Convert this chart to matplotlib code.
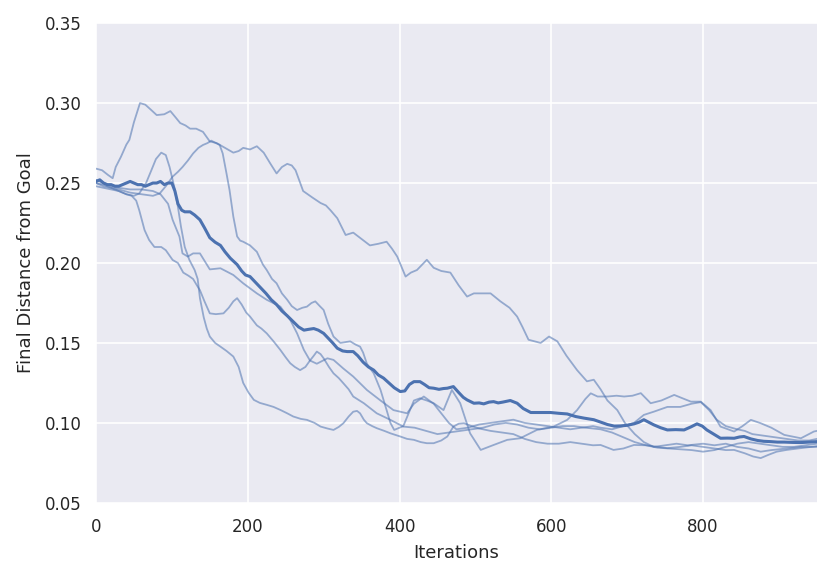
import matplotlib
matplotlib.use("Agg")
import matplotlib.pyplot as plt

# individual runs (faint lines)
run_a_x = [0, 8, 16, 22, 26, 33, 40, 44, 50, 58, 65, 72, 80, 90, 98, 105, 111, 118, 124, 132, 141, 150,
           159, 170, 181, 188, 194, 203, 212, 221, 230, 238, 245, 252, 258, 263, 273, 285, 296, 303, 309,
           318, 329, 339, 350, 361, 372, 383, 390, 397, 408, 415, 423, 436, 445, 455, 467, 478, 489, 498,
           507, 520, 533, 545, 555, 562, 570, 586, 597, 608, 620, 634, 647, 656, 665, 674, 687, 697, 710,
           722, 735, 750, 765, 780, 800, 815, 830, 845, 860, 876, 890, 910, 930, 950]
run_a_y = [0.259, 0.258, 0.255, 0.253, 0.260, 0.2665, 0.274, 0.277, 0.288, 0.300, 0.299, 0.296, 0.2925,
           0.293, 0.295, 0.291, 0.2875, 0.286, 0.284, 0.284, 0.282, 0.276, 0.275, 0.272, 0.269, 0.270,
           0.272, 0.271, 0.273, 0.269, 0.262, 0.256, 0.260, 0.262, 0.261, 0.258, 0.245, 0.241, 0.2375,
           0.236, 0.233, 0.228, 0.2175, 0.219, 0.215, 0.211, 0.212, 0.2133, 0.209, 0.204, 0.1915, 0.194,
           0.1956, 0.202, 0.197, 0.195, 0.194, 0.186, 0.179, 0.181, 0.181, 0.181, 0.176, 0.172, 0.1665,
           0.160, 0.152, 0.150, 0.154, 0.151, 0.142, 0.133, 0.126, 0.127, 0.121, 0.114, 0.108, 0.100,
           0.093, 0.088, 0.085, 0.086, 0.087, 0.086, 0.087, 0.086, 0.087, 0.085, 0.084, 0.082, 0.083,
           0.084, 0.085, 0.085]

run_b_x = [0, 10, 20, 30, 45, 60, 75, 84, 92, 101, 108, 114, 121, 128, 135, 141, 147, 152, 158, 163, 167,
           172, 176, 181, 186, 190, 194, 203, 212, 220, 225, 232, 238, 245, 252, 258, 265, 272, 278, 284,
           289, 295, 300, 306, 313, 322, 335, 342, 348, 352, 357, 366, 375, 383, 388, 393, 400, 405, 412,
           419, 427, 436, 445, 458, 469, 480, 493, 507, 524, 542, 559, 581, 603, 621, 634, 645, 652, 661,
           674, 686, 696, 707, 718, 731, 745, 762, 775, 784, 797, 810, 823, 841, 852, 863, 876, 890, 907,
           929, 946, 950]
run_b_y = [0.250, 0.249, 0.247, 0.246, 0.244, 0.243, 0.242, 0.2435, 0.248, 0.254, 0.257, 0.260, 0.264,
           0.2685, 0.272, 0.2738, 0.275, 0.2765, 0.275, 0.2738, 0.2685, 0.256, 0.2456, 0.229, 0.2166,
           0.214, 0.2133, 0.211, 0.207, 0.199, 0.1956, 0.190, 0.1873, 0.181, 0.177, 0.173, 0.1706, 0.172,
           0.1727, 0.175, 0.176, 0.173, 0.1706, 0.162, 0.154, 0.150, 0.151, 0.149, 0.1477, 0.144, 0.137,
           0.131, 0.1206, 0.108, 0.100, 0.0956, 0.097, 0.098, 0.106, 0.114, 0.1154, 0.114, 0.1123, 0.108,
           0.1206, 0.1123, 0.0935, 0.0831, 0.0862, 0.0894, 0.0904, 0.0956, 0.0977, 0.1019, 0.108, 0.115,
           0.1185, 0.1165, 0.1165, 0.117, 0.1165, 0.117, 0.1186, 0.1123, 0.114, 0.1175, 0.115, 0.1133,
           0.1133, 0.108, 0.0977, 0.0946, 0.098, 0.1019, 0.0998, 0.097, 0.0925, 0.0904, 0.0946, 0.095]

run_c_x = [0, 10, 20, 30, 40, 50, 57, 66, 73, 79, 86, 92, 97, 103, 108, 112, 117, 123, 130, 134, 137, 142,
           146, 150, 157, 164, 172, 181, 188, 194, 201, 208, 216, 225, 234, 243, 252, 260, 270, 278, 288,
           296, 305, 313, 320, 326, 333, 339, 344, 348, 353, 357, 364, 370, 380, 388, 401, 410, 419, 428,
           436, 445, 455, 463, 471, 478, 485, 495, 505, 520, 535, 550, 565, 580, 595, 610, 625, 640, 655,
           665, 682, 695, 709, 725, 740, 753, 770, 785, 797, 815, 830, 841, 855, 866, 876, 886, 897, 910,
           925, 946, 950]
run_c_y = [0.250, 0.248, 0.247, 0.245, 0.243, 0.242, 0.2435, 0.250, 0.258, 0.265, 0.269, 0.2675, 0.260,
           0.248, 0.235, 0.2227, 0.210, 0.202, 0.1956, 0.190, 0.178, 0.166, 0.159, 0.154, 0.150, 0.1477,
           0.145, 0.1415, 0.135, 0.125, 0.119, 0.1144, 0.1125, 0.1113, 0.110, 0.1081, 0.106, 0.104,
           0.1025, 0.1019, 0.100, 0.0977, 0.0965, 0.0956, 0.0975, 0.0998, 0.104, 0.107, 0.1075, 0.106,
           0.102, 0.0998, 0.098, 0.0967, 0.095, 0.0935, 0.0915, 0.090, 0.0894, 0.088, 0.0873, 0.0873,
           0.089, 0.0915, 0.0977, 0.0995, 0.0998, 0.098, 0.0965, 0.095, 0.094, 0.093, 0.090, 0.088, 0.087,
           0.087, 0.088, 0.087, 0.086, 0.0862, 0.0831, 0.084, 0.0862, 0.086, 0.085, 0.0842, 0.085, 0.086,
           0.0852, 0.084, 0.083, 0.0831, 0.081, 0.079, 0.078, 0.080, 0.082, 0.0831, 0.084, 0.0852, 0.0855]

run_d_x = [0, 10, 20, 30, 40, 47, 53, 57, 64, 70, 77, 86, 92, 101, 108, 115, 122, 128, 133, 137, 143, 150,
           158, 168, 175, 181, 186, 192, 198, 203, 212, 218, 225, 234, 243, 250, 256, 262, 269, 276, 282,
           287, 291, 296, 300, 307, 313, 320, 326, 333, 339, 353, 370, 388, 405, 420, 435, 450, 465, 480,
           495, 510, 525, 540, 555, 570, 585, 600, 615, 630, 645, 665, 680, 695, 710, 725, 740, 755, 770,
           785, 800, 815, 830, 845, 860, 875, 890, 905, 920, 935, 950]
run_d_y = [0.248, 0.247, 0.246, 0.245, 0.243, 0.242, 0.239, 0.233, 0.2206, 0.2144, 0.210, 0.210, 0.208,
           0.2019, 0.200, 0.194, 0.192, 0.190, 0.186, 0.183, 0.176, 0.1685, 0.168, 0.1685, 0.172, 0.176,
           0.178, 0.174, 0.169, 0.1665, 0.161, 0.159, 0.156, 0.151, 0.1456, 0.141, 0.1373, 0.135, 0.133,
           0.135, 0.139, 0.142, 0.1446, 0.143, 0.1404, 0.135, 0.131, 0.128, 0.1248, 0.121, 0.1165, 0.1123,
           0.106, 0.1019, 0.0977, 0.097, 0.095, 0.093, 0.094, 0.095, 0.096, 0.097, 0.099, 0.100, 0.099,
           0.097, 0.096, 0.097, 0.098, 0.098, 0.097, 0.096, 0.094, 0.091, 0.088, 0.086, 0.0845, 0.084,
           0.0835, 0.083, 0.082, 0.083, 0.085, 0.087, 0.088, 0.087, 0.086, 0.085, 0.085, 0.086, 0.087]

run_f_x = [0, 10, 20, 30, 45, 60, 75, 85, 95, 101, 110, 114, 121, 128, 137, 150, 164, 181, 194, 212, 225,
           243, 256, 265, 274, 282, 291, 305, 313, 326, 339, 357, 375, 392, 410, 419, 432, 445, 455, 465,
           475, 490, 505, 520, 535, 550, 565, 580, 595, 610, 625, 640, 655, 665, 680, 695, 709, 722, 735,
           753, 770, 785, 797, 808, 818, 830, 845, 855, 865, 880, 895, 910, 925, 940, 950]
run_f_y = [0.252, 0.250, 0.248, 0.247, 0.246, 0.246, 0.245, 0.243, 0.237, 0.227, 0.2165, 0.206, 0.204,
           0.206, 0.206, 0.196, 0.1967, 0.1925, 0.1873, 0.181, 0.177, 0.1727, 0.1644, 0.156, 0.1456,
           0.139, 0.137, 0.1404, 0.1394, 0.134, 0.129, 0.1206, 0.114, 0.108, 0.106, 0.112, 0.1165, 0.112,
           0.106, 0.100, 0.096, 0.097, 0.099, 0.100, 0.101, 0.102, 0.100, 0.099, 0.098, 0.097, 0.096,
           0.097, 0.098, 0.097, 0.096, 0.098, 0.100, 0.105, 0.107, 0.110, 0.110, 0.112, 0.113, 0.108,
           0.102, 0.098, 0.096, 0.095, 0.093, 0.092, 0.091, 0.090, 0.089, 0.089, 0.090]

# thick (average) line
avg_x = [0, 5, 10, 15, 20, 25, 30, 35, 40, 45, 50, 55, 60, 65, 70, 75, 80, 85, 90, 95, 100, 104, 108, 113,
         117, 124, 130, 137, 143, 150, 157, 164, 170, 177, 186, 192, 197, 203, 210, 216, 224, 231, 238, 245,
         252, 260, 267, 274, 280, 287, 293, 300, 306, 312, 318, 325, 331, 339, 345, 352, 359, 366, 372, 379,
         386, 393, 401, 407, 413, 419, 427, 433, 439, 445, 452, 458, 463, 471, 478, 484, 489, 498, 505, 511,
         518, 524, 530, 536, 546, 555, 563, 573, 585, 599, 610, 621, 632, 643, 656, 665, 674, 683, 691, 700,
         709, 716, 722, 728, 735, 744, 753, 764, 775, 784, 792, 799, 805, 814, 823, 832, 841, 848, 854, 863,
         872, 880, 889, 898, 907, 918, 929, 940, 950]
avg_y = [0.251, 0.252, 0.250, 0.249, 0.249, 0.248, 0.248, 0.249, 0.250, 0.251, 0.250, 0.249, 0.249, 0.248,
         0.249, 0.250, 0.250, 0.251, 0.249, 0.250, 0.250, 0.245, 0.237, 0.233, 0.232, 0.232, 0.230, 0.227,
         0.222, 0.2158, 0.213, 0.211, 0.207, 0.203, 0.199, 0.195, 0.1925, 0.1915, 0.188, 0.185, 0.181,
         0.177, 0.174, 0.170, 0.167, 0.1633, 0.160, 0.158, 0.1585, 0.159, 0.158, 0.156, 0.153, 0.150,
         0.1467, 0.145, 0.1446, 0.1446, 0.142, 0.138, 0.135, 0.133, 0.130, 0.128, 0.125, 0.122, 0.1196,
         0.120, 0.124, 0.1258, 0.1258, 0.124, 0.122, 0.1217, 0.121, 0.1215, 0.1217, 0.1227, 0.119, 0.116,
         0.1144, 0.1123, 0.1125, 0.1119, 0.113, 0.1133, 0.1125, 0.113, 0.114, 0.1123, 0.109, 0.1065,
         0.1065, 0.1065, 0.106, 0.1056, 0.104, 0.103, 0.102, 0.1005, 0.099, 0.098, 0.0981, 0.0985, 0.0994,
         0.1005, 0.102, 0.1005, 0.0988, 0.097, 0.0956, 0.0958, 0.0956, 0.0975, 0.0994, 0.098, 0.0956,
         0.093, 0.0904, 0.0905, 0.0904, 0.0912, 0.0915, 0.090, 0.089, 0.0885, 0.0883, 0.088, 0.088,
         0.0878, 0.0877, 0.088, 0.0883]

runs = [(run_a_x, run_a_y), (run_b_x, run_b_y), (run_c_x, run_c_y),
        (run_d_x, run_d_y), (run_f_x, run_f_y)]

BLUE = "#4C72B0"
plt.rcParams.update({
    "font.family": "DejaVu Sans", "font.size": 12,
    "axes.facecolor": "#EAEAF2", "axes.edgecolor": "white",
    "axes.grid": True, "grid.color": "white", "grid.linewidth": 1.2,
    "xtick.major.size": 0, "ytick.major.size": 0,
    "xtick.color": "#262626", "ytick.color": "#262626",
    "axes.labelcolor": "#262626",
})

fig = plt.figure(figsize=(8.31, 5.78), dpi=100)
ax = fig.add_axes([0.1155, 0.130, 0.8675, 0.830])
for xs, ys in runs:
    ax.plot(xs, ys, color=BLUE, alpha=0.55, lw=1.3)
ax.plot(avg_x, avg_y, color=BLUE, lw=2.2)

ax.set_xlim(0, 950)
ax.set_ylim(0.05, 0.35)
ax.set_xticks([0, 200, 400, 600, 800])
ax.set_yticks([0.05, 0.10, 0.15, 0.20, 0.25, 0.30, 0.35])
ax.set_yticklabels(["0.05", "0.10", "0.15", "0.20", "0.25", "0.30", "0.35"])
ax.tick_params(axis="x", labelsize=12, pad=11)
ax.tick_params(axis="y", labelsize=12, pad=10)
ax.set_xlabel("Iterations", fontsize=13, labelpad=6)
ax.set_ylabel("Final Distance from Goal", fontsize=13, labelpad=7)
for s in ax.spines.values():
    s.set_visible(False)
ax.set_axisbelow(True)

fig.savefig("out.png", dpi=100)
